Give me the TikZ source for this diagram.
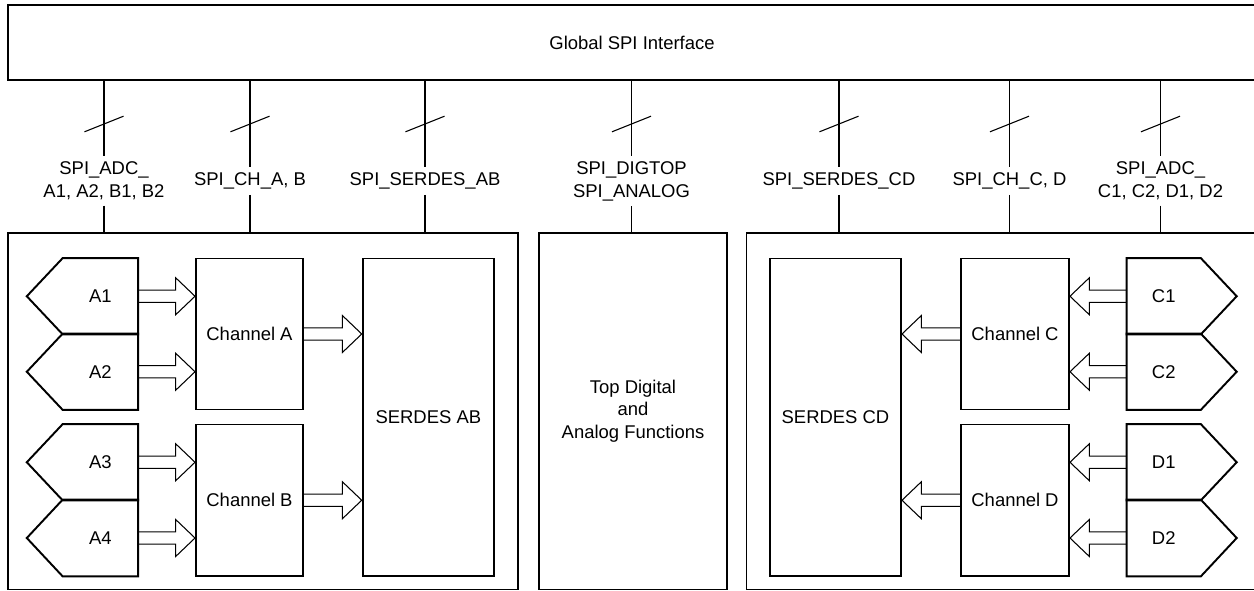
\documentclass[tikz,border=0pt]{standalone}
\usepackage{fontspec}
\setmainfont{Liberation Sans}
\usetikzlibrary{calc}

\newdimen\pxl
\pxl=0.02cm

\tikzset{
  sized/.style 2 args={minimum width=#1\pxl, minimum height=#2\pxl},
  bigbox/.style={draw, line width=1.1pt, inner sep=0pt},
  chanbox/.style={draw, line width=1.1pt, inner sep=0pt},
  adcpart/.style={inner sep=0pt},
  adcline/.style={line width=1.1pt},
  busline/.style={line width=0.6pt},
  buslabel/.style={inner sep=3pt, align=center},
  fatline/.style={line width=0.6pt},
}

% hollow block arrow from #1 to the tip #2 (horizontal)
\newcommand{\fatarrow}[2]{%
  \draw[fatline] let \p1=#1, \p2=#2, \p3=($(\p2)!11pt!(\p1)$) in
    (\x1,\y1+3.5pt) -- (\x3,\y1+3.5pt) -- (\x3,\y1+10.5pt) -- (\x2,\y2)
    -- (\x3,\y1-10.5pt) -- (\x3,\y1-3.5pt) -- (\x1,\y1-3.5pt);}

\begin{document}
\begin{tikzpicture}[x=0.02cm, y=-0.02cm, font=\fontsize{10.5}{13}\selectfont]
  \useasboundingbox (0,0) rectangle (1254,591);
  \clip (0,0) rectangle (1254,591);

  % interface and the three blocks
  \node[bigbox, sized={1248}{75}] (gspi) at (632,42.5) {Global SPI Interface};
  \node[bigbox, sized={510}{356.8}] (blkAB) at (263,411.1) {};
  \node[bigbox, sized={188}{356.8}, align=center] (blkTop) at (633,411.1) {Top Digital\\and\\Analog Functions};
  \node[bigbox, sized={515.5}{356.8}] (blkCD) at (1004.25,411.1) {};

  % left side
  \node[chanbox, sized={107}{151}] (chA) at (249.5,334) {Channel A};
  \node[chanbox, sized={107}{151.5}] (chB) at (249.5,500.25) {Channel B};
  \node[chanbox, sized={131.3}{317.5}] (serAB) at (428.35,417.25) {SERDES AB};
  \node[adcpart, sized={74.7}{75.5}] (a1) at (100.35,296.25) {A1};
  \node[adcpart, sized={74.7}{75.5}] (a2) at (100.35,371.75) {A2};
  \node[adcpart, sized={74.7}{75.5}] (a3) at (100.35,462.25) {A3};
  \node[adcpart, sized={74.7}{76}] (a4) at (100.35,538) {A4};

  % right side
  \node[chanbox, sized={108}{151}] (chC) at (1015,334) {Channel C};
  \node[chanbox, sized={108}{151.5}] (chD) at (1015,500.25) {Channel D};
  \node[chanbox, sized={131}{317.5}] (serCD) at (835.5,417.25) {SERDES CD};
  \node[adcpart, sized={73.5}{75.5}] (c1) at (1163.75,296.25) {C1};
  \node[adcpart, sized={73.5}{75.5}] (c2) at (1163.75,371.75) {C2};
  \node[adcpart, sized={73.5}{75.5}] (d1) at (1163.75,462.25) {D1};
  \node[adcpart, sized={73.5}{76}] (d2) at (1163.75,538) {D2};

  \foreach \n in {a1,a2,a3,a4}
    \draw[adcline] (\n.north east) -- (\n.north west) -- ([xshift=-20.4pt]\n.west) -- (\n.south west) -- (\n.south east) -- cycle;
  \foreach \n in {c1,c2,d1,d2}
    \draw[adcline] (\n.north west) -- (\n.north east) -- ([xshift=20.4pt]\n.east) -- (\n.south east) -- (\n.south west) -- cycle;

  % data paths
  \fatarrow{(a1.east)}{(a1.east -| chA.west)}
  \fatarrow{(a2.east)}{(a2.east -| chA.west)}
  \fatarrow{(a3.east)}{(a3.east -| chB.west)}
  \fatarrow{(a4.east)}{(a4.east -| chB.west)}
  \fatarrow{(chA.east)}{(chA.east -| serAB.west)}
  \fatarrow{(chB.east)}{(chB.east -| serAB.west)}
  \fatarrow{(c1.west)}{(c1.west -| chC.east)}
  \fatarrow{(c2.west)}{(c2.west -| chC.east)}
  \fatarrow{(d1.west)}{(d1.west -| chD.east)}
  \fatarrow{(d2.west)}{(d2.west -| chD.east)}
  \fatarrow{(chC.west)}{(chC.west -| serCD.east)}
  \fatarrow{(chD.west)}{(chD.west -| serCD.east)}

  % SPI buses
  \node[buslabel] (lADCab) at (104,181) {SPI\_ADC\_\\A1, A2, B1, B2};
  \node[buslabel] (lCHab) at (250,181) {SPI\_CH\_A, B};
  \node[buslabel] (lSERab) at (425,181) {SPI\_SERDES\_AB};
  \node[buslabel] (lTop) at (631.5,181) {SPI\_DIGTOP\\SPI\_ANALOG};
  \node[buslabel] (lSERcd) at (839,181) {SPI\_SERDES\_CD};
  \node[buslabel] (lCHcd) at (1009.5,181) {SPI\_CH\_C, D};
  \node[buslabel] (lADCcd) at (1160.5,181) {SPI\_ADC\_\\C1, C2, D1, D2};

  \foreach \l/\b in {lADCab/blkAB, lCHab/blkAB, lSERab/blkAB, lTop/blkTop, lSERcd/blkCD, lCHcd/blkCD, lADCcd/blkCD} {
    \draw[busline] (\l |- gspi.south) -- (\l.north);
    \draw[busline] (\l.south) -- (\l |- \b.north);
    \draw[busline] (\l |- 0,124) ++(-19.5,7.8) -- ++(39,-15.6);
  }
\end{tikzpicture}
\end{document}
